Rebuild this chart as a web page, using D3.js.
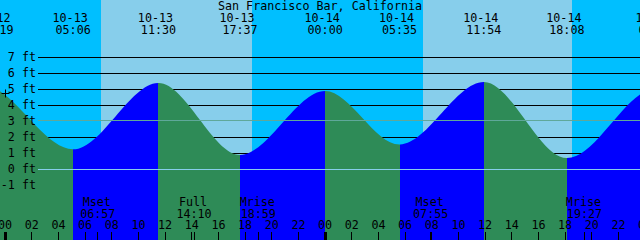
<!DOCTYPE html>
<html>
<head>
<meta charset="utf-8">
<script src="https://cdn.jsdelivr.net/npm/d3@7"></script>
<style>
  html, body { margin: 0; padding: 0; background: #fff; }
  svg { display: block; }
  text { font-family: "DejaVu Sans Mono", monospace; font-size: 11.7px; fill: #000; }
</style>
</head>
<body>
<div id="chart"></div>
<script>
const parse = d3.utcParse("%Y-%m-%d %H:%M");

const title = "San Francisco Bar, California";

// high and low water (first and last lows lie off the chart)
const tideTimes = ["2019-10-12 16:30", "2019-10-12 22:20", "2019-10-13 05:06", "2019-10-13 11:30", "2019-10-13 17:37",
    "2019-10-14 00:00", "2019-10-14 05:35", "2019-10-14 11:54", "2019-10-14 18:08", "2019-10-15 00:49", "2019-10-15 07:00"];
const tideLevels = [1.0, 5.2, 1.2, 5.35, 0.85, 4.85, 1.5, 5.4, 0.65, 5.0, 1.3];

// labels along the top
const tideLabelTimes = ["2019-10-12 23:19", "2019-10-13 05:06", "2019-10-13 11:30", "2019-10-13 17:37",
    "2019-10-14 00:00", "2019-10-14 05:35", "2019-10-14 11:54", "2019-10-14 18:08", "2019-10-15 00:49"];

// day / night
const sunrise = ["2019-10-13 07:12", "2019-10-14 07:22"];
const sunset = ["2019-10-13 18:32", "2019-10-14 18:32"];

// moon events
const moonNames = ["Mset", "Full", "Mrise", "Mset", "Mrise"];
const moonTimes = ["2019-10-13 06:57", "2019-10-13 14:10", "2019-10-13 18:59", "2019-10-14 07:55", "2019-10-14 19:27"];

// marker
const markTime = "2019-10-13 00:00";
const markLevel = 4.75;

const levelTicks = [-1, 0, 1, 2, 3, 4, 5, 6, 7];
const meanLevel = 3;

const width = 640, height = 240;

const svg = d3.select("#chart").append("svg")
    .attr("width", width)
    .attr("height", height);

const x = d3.scaleUtc()
    .domain([new Date(Date.UTC(2019, 9, 12, 23, 37)), new Date(Date.UTC(2019, 9, 14, 23, 37))])
    .range([0, width]);

const y = d3.scaleLinear()
    .domain([0, 7])
    .range([168.5, 56.5]);

// night everywhere, then day
svg.append("rect").attr("width", width).attr("height", height).attr("fill", "#00bfff");
svg.selectAll(".day")
    .data(sunrise.map((d, i) => [parse(d), parse(sunset[i])]))
    .enter().append("rect")
    .attr("class", "day")
    .attr("x", d => Math.round(x(d[0])))
    .attr("width", d => Math.round(x(d[1])) - Math.round(x(d[0])))
    .attr("y", 0)
    .attr("height", height)
    .attr("fill", "#87ceeb");

// depth lines
svg.selectAll(".depth")
    .data(levelTicks)
    .enter().append("line")
    .attr("x1", 38).attr("x2", width)
    .attr("y1", d => Math.round(y(d)) + 0.5)
    .attr("y2", d => Math.round(y(d)) + 0.5)
    .attr("stroke", "#000");

// tide
const tide = tideTimes.map((d, i) => ({ t: parse(d), h: tideLevels[i] }));

const area = d3.area()
    .x(d => x(d.t))
    .y0(height)
    .y1(d => y(d.h))
    .curve(d3.curveMonotoneX);

const defs = svg.append("defs");
for (let i = 0; i < tide.length - 1; i++) {
    const x0 = Math.round(x(tide[i].t)), x1 = Math.round(x(tide[i + 1].t));
    defs.append("clipPath").attr("id", "seg" + i)
        .append("rect")
        .attr("x", x0).attr("width", x1 - x0)
        .attr("y", 0).attr("height", height);
    svg.append("path")
        .datum(tide)
        .attr("d", area)
        .attr("clip-path", "url(#seg" + i + ")")
        .attr("fill", tide[i + 1].h > tide[i].h ? "#0000ff" : "#2e8b57");
}

// datum and mean level
svg.append("line")
    .attr("x1", 38).attr("x2", width)
    .attr("y1", Math.round(y(0)) + 0.5).attr("y2", Math.round(y(0)) + 0.5)
    .attr("stroke", "#87ceeb");
svg.append("line")
    .attr("x1", 38).attr("x2", width)
    .attr("y1", Math.round(y(meanLevel)) + 0.5).attr("y2", Math.round(y(meanLevel)) + 0.5)
    .attr("stroke", "#5fa89a");

// level labels
svg.selectAll(".lvl")
    .data(levelTicks)
    .enter().append("text")
    .attr("x", 36)
    .attr("y", d => y(d) + 4.2)
    .attr("text-anchor", "end")
    .text(d => d + " ft");

// marker
const mx = Math.floor(x(parse(markTime))) + 0.5, my = Math.round(y(markLevel)) + 0.5;
svg.append("path")
    .attr("d", `M${mx - 4},${my}H${mx + 4}M${mx},${my - 4}V${my + 4}`)
    .attr("stroke", "#000");

// title and tide labels
svg.append("text").attr("x", width / 2).attr("y", 9.5).attr("text-anchor", "middle").text(title);

const fmtDate = d3.utcFormat("%m-%d"), fmtClock = d3.utcFormat("%H:%M");
const tl = svg.selectAll(".tl")
    .data(tideLabelTimes.map(parse))
    .enter().append("g");
tl.append("text")
    .attr("x", d => x(d) - 3)
    .attr("y", 21.7)
    .attr("text-anchor", "middle")
    .text(fmtDate);
tl.append("text")
    .attr("x", d => x(d))
    .attr("y", 34)
    .attr("text-anchor", "middle")
    .text(fmtClock);

// moon labels
const ml = svg.selectAll(".ml")
    .data(moonTimes.map((d, i) => ({ t: parse(d), name: moonNames[i] })))
    .enter().append("g");
ml.append("text")
    .attr("x", d => x(d.t) - 1)
    .attr("y", 206)
    .attr("text-anchor", "middle")
    .text(d => d.name);
ml.append("text")
    .attr("x", d => x(d.t))
    .attr("y", 218.3)
    .attr("text-anchor", "middle")
    .text(d => fmtClock(d.t));
ml.append("line")
    .attr("x1", d => Math.floor(x(d.t)) + 0.5)
    .attr("x2", d => Math.floor(x(d.t)) + 0.5)
    .attr("y1", 232).attr("y2", height)
    .attr("stroke", "#000");

// hour axis
const hours = d3.utcHour.every(2).range(x.domain()[0], d3.utcHour.offset(x.domain()[1], 2));
svg.selectAll(".hl")
    .data(hours)
    .enter().append("text")
    .attr("x", d => x(d))
    .attr("y", 229)
    .attr("text-anchor", "middle")
    .text(d3.utcFormat("%H"));
svg.selectAll(".ht")
    .data(hours)
    .enter().append("line")
    .attr("x1", d => Math.floor(x(d)) + 0.5)
    .attr("x2", d => Math.floor(x(d)) + 0.5)
    .attr("y1", 232).attr("y2", height)
    .attr("stroke", "#000")
    .attr("stroke-width", d => d.getUTCHours() === 0 ? 3 : 1);
</script>
</body>
</html>
